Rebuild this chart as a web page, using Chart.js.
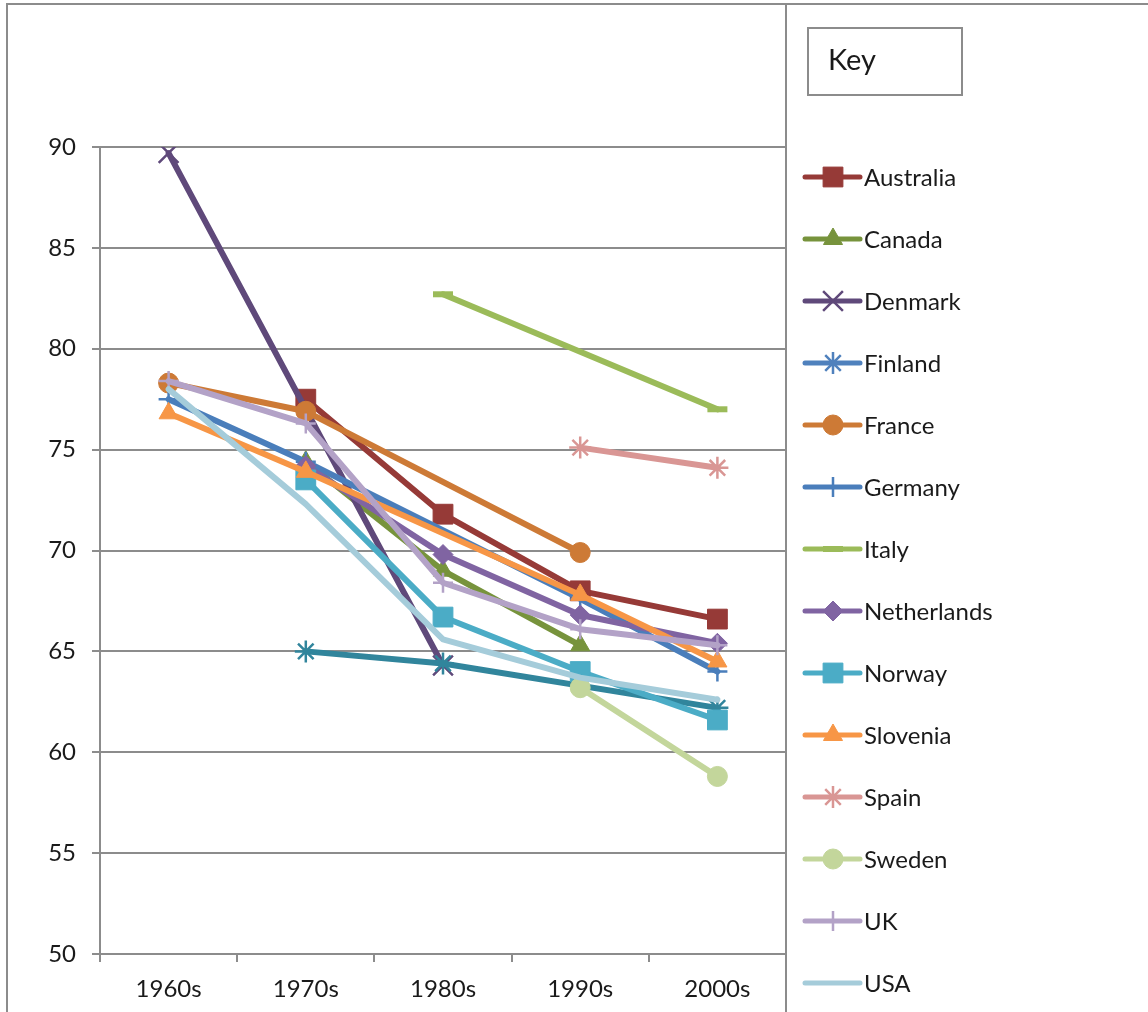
<!DOCTYPE html>
<html>
<head>
<meta charset="utf-8">
<title>Line chart by decade</title>
<script src="https://cdn.jsdelivr.net/npm/chart.js@4.4.1/dist/chart.umd.min.js"></script>
<style>
  html, body { margin: 0; padding: 0; background: #fff; }
  #wrap { width: 1148px; height: 1012px; }
</style>
</head>
<body>
<div id="wrap"><canvas id="chart" width="1148" height="1012"></canvas></div>
<script>
// Categories and y axis ticks
const decades = ['1960s', '1970s', '1980s', '1990s', '2000s'];
const yTicks = [50, 55, 60, 65, 70, 75, 80, 85, 90];

// One row of values per country, null where there is no value
const australia   = [null, 77.5, 71.8, 68.0, 66.6];
const canada      = [null, 74.4, 69.0, 65.3, null];
const denmark     = [89.7, null, 64.3, null, null];
const finland     = [null, 65.0, 64.4, null, 62.2];
const france      = [78.3, 76.9, null, 69.9, null];
const germany     = [77.5, 74.4, null, 67.6, 64.0];
const italy       = [null, null, 82.7, null, 77.0];
const netherlands = [null, 74.2, 69.8, 66.8, 65.4];
const norway      = [null, 73.5, 66.7, 64.0, 61.6];
const slovenia    = [76.8, 73.9, null, 67.8, 64.5];
const spain       = [null, null, null, 75.1, 74.1];
const sweden      = [null, null, null, 63.2, 58.8];
const uk          = [78.4, 76.3, 68.4, 66.1, 65.3];
const usa         = [78.0, 72.3, 65.6, 63.7, 62.6];

const countries = ['Australia', 'Canada', 'Denmark', 'Finland', 'France', 'Germany', 'Italy',
                   'Netherlands', 'Norway', 'Slovenia', 'Spain', 'Sweden', 'UK', 'USA'];
const seriesValues = [australia, canada, denmark, finland, france, germany, italy,
                      netherlands, norway, slovenia, spain, sweden, uk, usa];

// Line colour, key colour and marker for every series
const seriesStyles = [
  { color: '#963A37', key: '#963A37', marker: 'rect',     radius: 14, width: 1 },
  { color: '#77933C', key: '#77933C', marker: 'triangle', radius: 11, width: 1 },
  { color: '#5F497A', key: '#5F497A', marker: 'crossRot', radius: 14, width: 2.5 },
  { color: '#31859C', key: '#4F81BD', marker: 'star',     radius: 11, width: 2.5 },
  { color: '#CD7A36', key: '#CD7A36', marker: 'circle',   radius: 10, width: 1 },
  { color: '#4A7EBB', key: '#4A7EBB', marker: 'cross',    radius: 10, width: 2.5 },
  { color: '#9BBB59', key: '#9BBB59', marker: 'line',     radius: 10, width: 6 },
  { color: '#8064A2', key: '#8064A2', marker: 'rectRot',  radius: 10, width: 1 },
  { color: '#4BACC6', key: '#4BACC6', marker: 'rect',     radius: 14, width: 1 },
  { color: '#F79646', key: '#F79646', marker: 'triangle', radius: 11, width: 1 },
  { color: '#D99694', key: '#D99694', marker: 'star',     radius: 11, width: 2.5 },
  { color: '#C3D69B', key: '#C3D69B', marker: 'circle',   radius: 10, width: 1 },
  { color: '#B3A2C7', key: '#B3A2C7', marker: 'cross',    radius: 10, width: 2.5 },
  { color: '#A5CCDA', key: '#A5CCDA', marker: 'circle',   radius: 0,  width: 0 }
];

const gridGrey = '#8C8C8C';
const textColour = '#1A1A1A';
const fontFamily = 'Lato, "Open Sans", sans-serif';

const datasets = countries.map((name, i) => {
  const s = seriesStyles[i];
  return {
    label: name,
    data: seriesValues[i],
    borderColor: s.color,
    backgroundColor: s.color,
    borderWidth: 6,
    borderJoinStyle: 'round',
    borderCapStyle: 'round',
    pointStyle: s.marker,
    pointRadius: s.radius,
    pointHoverRadius: s.radius,
    pointBorderWidth: s.width,
    pointBorderColor: s.color,
    pointBackgroundColor: s.color,
    keyColor: s.key,
    spanGaps: true,
    tension: 0,
    // later countries sit on top of earlier ones
    order: countries.length - i
  };
});

// Outer frame, divider and the key on the right
const keyPlugin = {
  id: 'keyPanel',
  beforeDraw(chart) {
    const ctx = chart.ctx;
    ctx.save();
    ctx.fillStyle = '#fff';
    ctx.fillRect(0, 0, chart.width, chart.height);
    ctx.restore();
  },
  afterDraw(chart) {
    const ctx = chart.ctx;
    const area = chart.chartArea;
    ctx.save();
    ctx.strokeStyle = gridGrey;
    ctx.lineWidth = 2;
    ctx.strokeRect(7, 4, chart.width + 20, chart.height + 20);
    ctx.beginPath();
    ctx.moveTo(area.right, 4);
    ctx.lineTo(area.right, chart.height);
    ctx.stroke();

    const left = area.right + 22;
    ctx.strokeRect(left, 28, 154, 67);
    ctx.fillStyle = textColour;
    ctx.font = '29px ' + fontFamily;
    ctx.textBaseline = 'alphabetic';
    ctx.fillText('Key', left + 20, 70);

    ctx.font = '24px ' + fontFamily;
    ctx.textBaseline = 'middle';
    chart.data.datasets.forEach((ds, i) => {
      const y = 177 + i * 62;
      ctx.strokeStyle = ds.keyColor;
      ctx.fillStyle = ds.keyColor;
      ctx.lineWidth = 5;
      ctx.lineCap = 'round';
      ctx.beginPath();
      ctx.moveTo(left - 3, y);
      ctx.lineTo(left + 52, y);
      ctx.stroke();
      if (ds.pointRadius > 0) {
        ctx.lineWidth = ds.pointBorderWidth;
        ctx.lineCap = 'butt';
        Chart.helpers.drawPoint(ctx, {
          pointStyle: ds.pointStyle,
          radius: ds.pointRadius,
          borderWidth: ds.pointBorderWidth,
          rotation: 0
        }, left + 25, y);
      }
      ctx.fillStyle = textColour;
      ctx.fillText(ds.label, left + 56, y + 1);
    });
    ctx.restore();
  }
};

new Chart(document.getElementById('chart'), {
  type: 'line',
  data: { labels: decades, datasets: datasets },
  plugins: [keyPlugin],
  options: {
    responsive: false,
    animation: false,
    layout: { padding: { left: 0, right: 362, top: 147, bottom: 0 } },
    plugins: {
      legend: { display: false },
      tooltip: { enabled: false }
    },
    scales: {
      x: {
        type: 'category',
        offset: true,
        afterFit(scale) { scale.height = 58; },
        grid: {
          offset: true,
          drawOnChartArea: false,
          drawTicks: true,
          tickLength: 8,
          color: gridGrey,
          lineWidth: 2
        },
        border: { color: gridGrey, width: 2 },
        ticks: {
          color: textColour,
          font: { family: fontFamily, size: 24 },
          padding: 13,
          maxRotation: 0
        }
      },
      y: {
        min: yTicks[0],
        max: yTicks[yTicks.length - 1],
        afterFit(scale) { scale.width = 100; },
        grid: {
          color: gridGrey,
          lineWidth: 2,
          drawTicks: true,
          tickLength: 8
        },
        border: { color: gridGrey, width: 2 },
        ticks: {
          stepSize: yTicks[1] - yTicks[0],
          color: textColour,
          font: { family: fontFamily, size: 24 },
          padding: 16
        }
      }
    }
  }
});
</script>
</body>
</html>
